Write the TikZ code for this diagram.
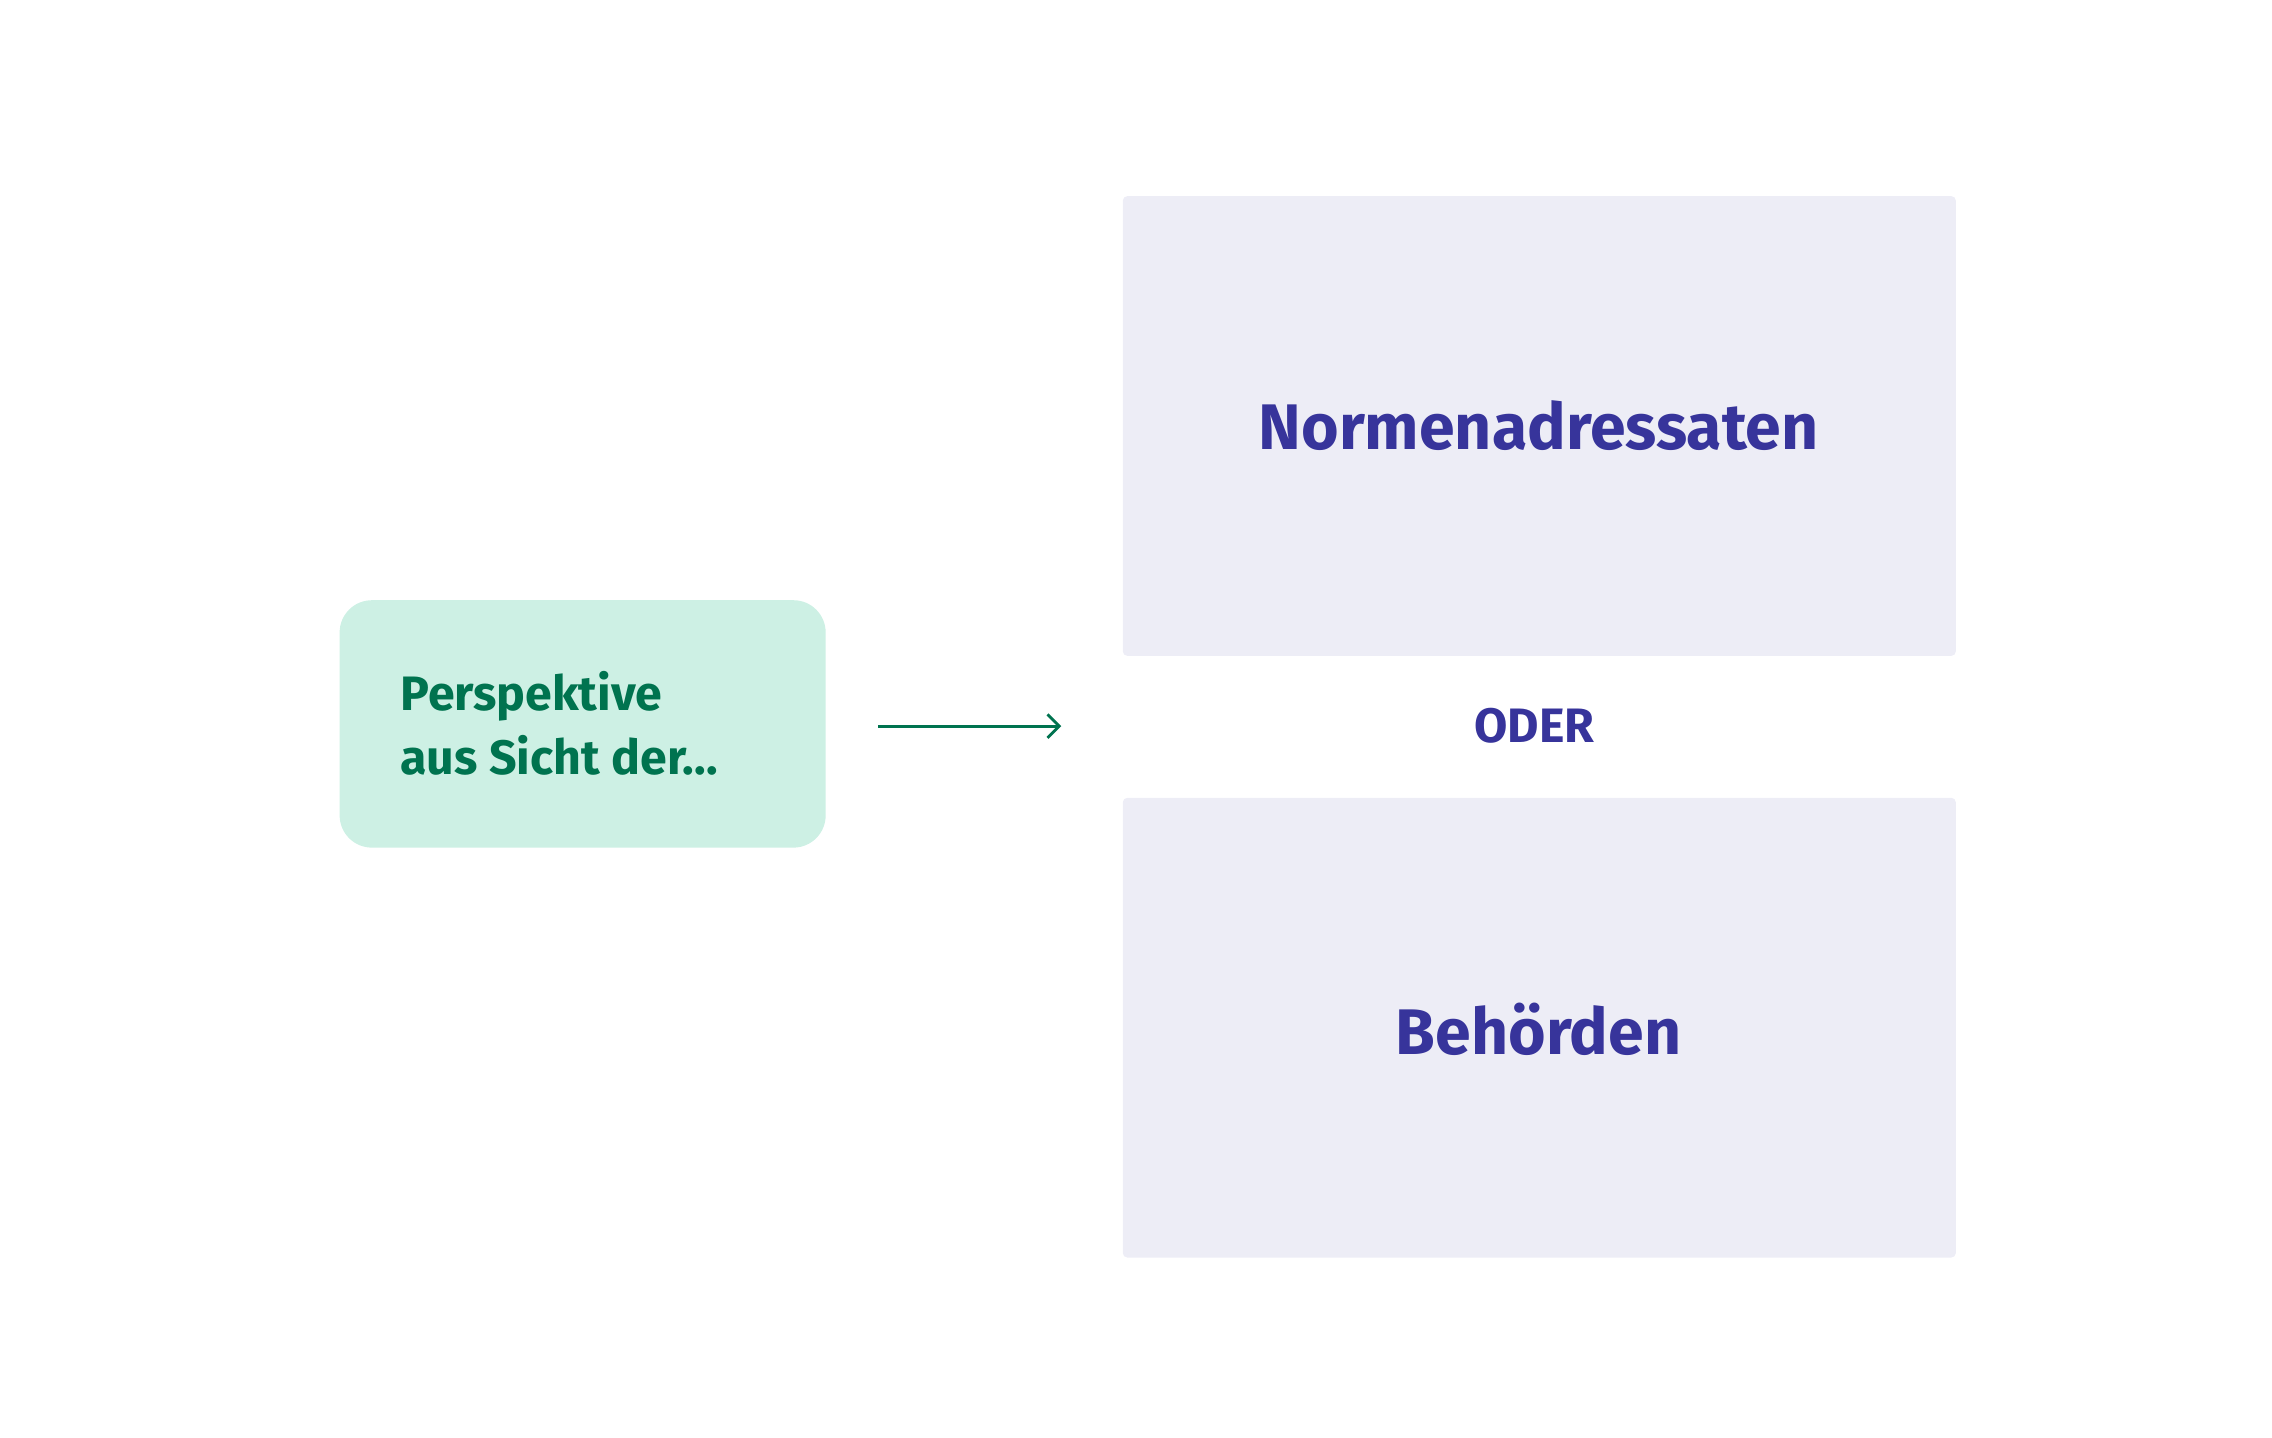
\documentclass[tikz,border=0pt]{standalone}
\usepackage{fontspec}
\setmainfont{Fira Sans}
\usetikzlibrary{arrows.meta}
\definecolor{gfill}{HTML}{CDF0E4}
\definecolor{gtext}{HTML}{00734F}
\definecolor{bfill}{HTML}{EDEDF6}
\definecolor{btext}{HTML}{37349B}
\begin{document}
\begin{tikzpicture}[x=1pt,y=-1pt,
  box/.style={fill=bfill,draw=none,rounded corners=3pt},
  btxt/.style={text=btext,font=\fontsize{44}{52}\selectfont\bfseries}]
\useasboundingbox (0,0) rectangle (1552,982);
\fill[gfill,rounded corners=22pt] (232,410) rectangle (564,579);
\node[anchor=west,align=left,text=gtext,font=\fontsize{33}{44}\selectfont\bfseries] (p) at (270,494) {Perspektive\\aus Sicht der...};
\coordinate (pa) at (600,496);
\coordinate (pb) at (725,496);
\draw[gtext,line width=2pt,-{Straight Barb[length=8pt,width=16pt]}] (pa) -- (pb);
\fill[box] (767,134) rectangle (1336,448);
\fill[box] (767,545) rectangle (1336,859);
\node[btxt] (n) at (1051,291) {Normenadressaten};
\node[btxt] (b) at (1051,703) {Behörden};
\node[text=btext,font=\fontsize{33}{40}\selectfont\bfseries] (o) at (1048,496) {ODER};
\end{tikzpicture}
\end{document}
